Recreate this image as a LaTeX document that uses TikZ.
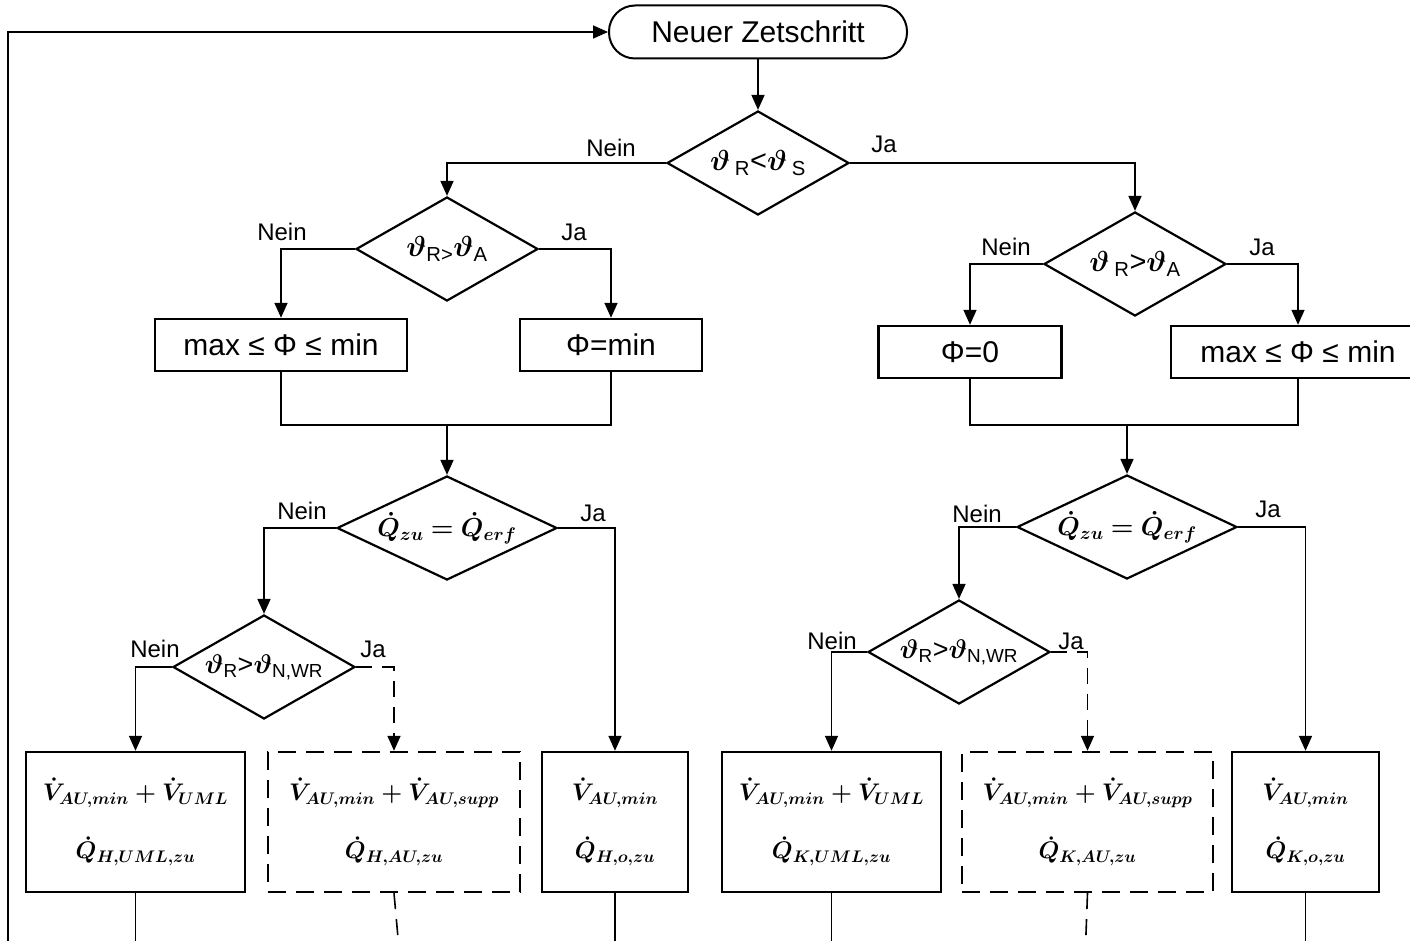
\RequirePackage{fix-cm}
\documentclass[tikz,border=0pt]{standalone}
\usepackage{amsmath}
\usepackage{bm}
\usepackage[no-math]{fontspec}
\setmainfont{Liberation Sans}
\usepackage{tikz}
\usetikzlibrary{shapes.geometric, arrows.meta, positioning, calc}
\newcommand{\vth}{$\boldsymbol{\vartheta}$}
\tikzset{
  term/.style={rectangle, draw, rounded corners=26pt,
    minimum width=298pt, minimum height=53pt,
    font=\fontsize{30}{36}\selectfont, line width=2pt},
  block/.style={rectangle, draw, minimum height=52pt, inner sep=0pt,
    font=\fontsize{30}{36}\selectfont, line width=2.4pt},
  decision/.style={diamond, draw, shape aspect=2, inner sep=0pt,
    minimum width=182pt, minimum height=104pt,
    font=\fontsize{29}{33}\selectfont, line width=2.2pt},
  qblock/.style={rectangle, draw, minimum height=140pt, align=center,
    font=\fontsize{24}{28}\selectfont\boldmath, line width=2.4pt},
  dqblock/.style={qblock, dash pattern=on 18pt off 10pt},
  lbl/.style={font=\fontsize{24}{28}\selectfont, inner sep=0pt},
  arrow/.style={-{Triangle[length=15pt,width=13pt]}, line width=1.6pt},
  darrow/.style={arrow, dash pattern=on 16pt off 10pt},
  line/.style={line width=1.6pt},
  dline/.style={line, dash pattern=on 16pt off 10pt}
}

\begin{document}
\begin{tikzpicture}[x=1pt, y=-1pt]
  \useasboundingbox (0,0) rectangle (1410,941);

  % start and first decisions
  \node[term] (start) at (758,32) {Neuer Zetschritt};
  \node[decision] (d1) at (758,163) {\vth\,\textsubscript{R}<\vth\,\textsubscript{S}};
  \node[decision] (d2) at (447,249) {\vth\textsubscript{R>}\vth\textsubscript{A}};
  \node[decision] (d3) at (1135,264) {\vth\,\textsubscript{R}>\vth\textsubscript{A}};

  \node[block, minimum width=252pt] (b1) at (281,345) {max ≤ Φ ≤ min};
  \node[block, minimum width=182pt] (b2) at (611,345) {Φ=min};
  \node[block, minimum width=183pt] (b3) at (970,352) {Φ=0};
  \node[block, minimum width=254pt] (b4) at (1298,352) {max ≤ Φ ≤ min};
  \coordinate (m1) at (447,425);
  \coordinate (m2) at (1127,425);

  % heat demand checks
  \node[decision, minimum width=220pt, font=\fontsize{26}{30}\selectfont] (d4) at (447,528) {$\boldsymbol{\dot Q_{zu} = \dot Q_{erf}}$};
  \node[decision, minimum width=220pt, font=\fontsize{26}{30}\selectfont] (d5) at (1127,527) {$\boldsymbol{\dot Q_{zu} = \dot Q_{erf}}$};
  \node[decision, font=\fontsize{27}{31}\selectfont] (d6) at (264,667) {\vth\textsubscript{R}>\vth\textsubscript{N,WR}};
  \node[decision, font=\fontsize{27}{31}\selectfont] (d7) at (959,652) {\vth\textsubscript{R}>\vth\textsubscript{N,WR}};

  % result boxes
  \node[qblock, minimum width=219pt] (q1) at (135.5,822) {$\dot V_{AU,min}+\dot V_{UML}$\\[28pt]$\dot Q_{H,UML,zu}$};
  \node[dqblock, minimum width=252pt] (q2) at (394,822) {$\dot V_{AU,min}+\dot V_{AU,supp}$\\[28pt]$\dot Q_{H,AU,zu}$};
  \node[qblock, minimum width=146pt] (q3) at (615,822) {$\dot V_{AU,min}$\\[28pt]$\dot Q_{H,o,zu}$};
  \node[qblock, minimum width=219pt] (q4) at (831.5,822) {$\dot V_{AU,min}+\dot V_{UML}$\\[28pt]$\dot Q_{K,UML,zu}$};
  \node[dqblock, minimum width=251pt] (q5) at (1087.5,822) {$\dot V_{AU,min}+\dot V_{AU,supp}$\\[28pt]$\dot Q_{K,AU,zu}$};
  \node[qblock, minimum width=147pt] (q6) at (1305.5,822) {$\dot V_{AU,min}$\\[28pt]$\dot Q_{K,o,zu}$};

  % branch labels
  \node[lbl] (n1) at (611,148) {Nein};
  \node[lbl] (j1) at (884,144) {Ja};
  \node[lbl] (n2) at (282,232) {Nein};
  \node[lbl] (j2) at (574,232) {Ja};
  \node[lbl] (n3) at (1006,247) {Nein};
  \node[lbl] (j3) at (1262,247) {Ja};
  \node[lbl] (n4) at (302,511) {Nein};
  \node[lbl] (j4) at (593,513) {Ja};
  \node[lbl] (n5) at (977,514) {Nein};
  \node[lbl] (j5) at (1268,509) {Ja};
  \node[lbl] (n6) at (155,649) {Nein};
  \node[lbl] (j6) at (373,649) {Ja};
  \node[lbl] (n7) at (832,641) {Nein};
  \node[lbl] (j7) at (1071,641) {Ja};

  % loose ends below the cut
  \coordinate (fb) at (8,960);
  \coordinate (o1) at (135.5,960);
  \coordinate (o2) at (400,960);
  \coordinate (o3) at (615,960);
  \coordinate (o4) at (831.5,960);
  \coordinate (o5) at (1085,960);
  \coordinate (o6) at (1305.5,960);

  \draw[arrow] (fb) |- (start.west);
  \draw[arrow] (start.south) -- (d1.north);
  \draw[arrow] (d1.west) -| (d2.north);
  \draw[arrow] (d1.east) -| (d3.north);
  \draw[arrow] (d2.west) -| (b1.north);
  \draw[arrow] (d2.east) -| (b2.north);
  \draw[arrow] (d3.west) -| (b3.north);
  \draw[arrow] (d3.east) -| (b4.north);
  \draw[line] (b1.south) |- (m1) -| (b2.south);
  \draw[line] (b3.south) |- (m2) -| (b4.south);
  \draw[arrow] (m1) -- (d4.north);
  \draw[arrow] (m2) -- (d5.north);
  \draw[arrow] (d4.west) -| (d6.north);
  \draw[arrow] (d4.east) -| (q3.north);
  \draw[arrow] (d5.west) -| (d7.north);
  \draw[arrow] (d5.east) -| (q6.north);
  \draw[arrow] (d6.west) -| (q1.north);
  \draw[darrow] (d6.east) -| (q2.north);
  \draw[arrow] (d7.west) -| (q4.north);
  \draw[darrow] (d7.east) -| (q5.north);

  \draw[line] (q1.south) -- (o1);
  \draw[dline] (q2.south) -- (o2);
  \draw[line] (q3.south) -- (o3);
  \draw[line] (q4.south) -- (o4);
  \draw[dline] (q5.south) -- (o5);
  \draw[line] (q6.south) -- (o6);
\end{tikzpicture}
\end{document}
